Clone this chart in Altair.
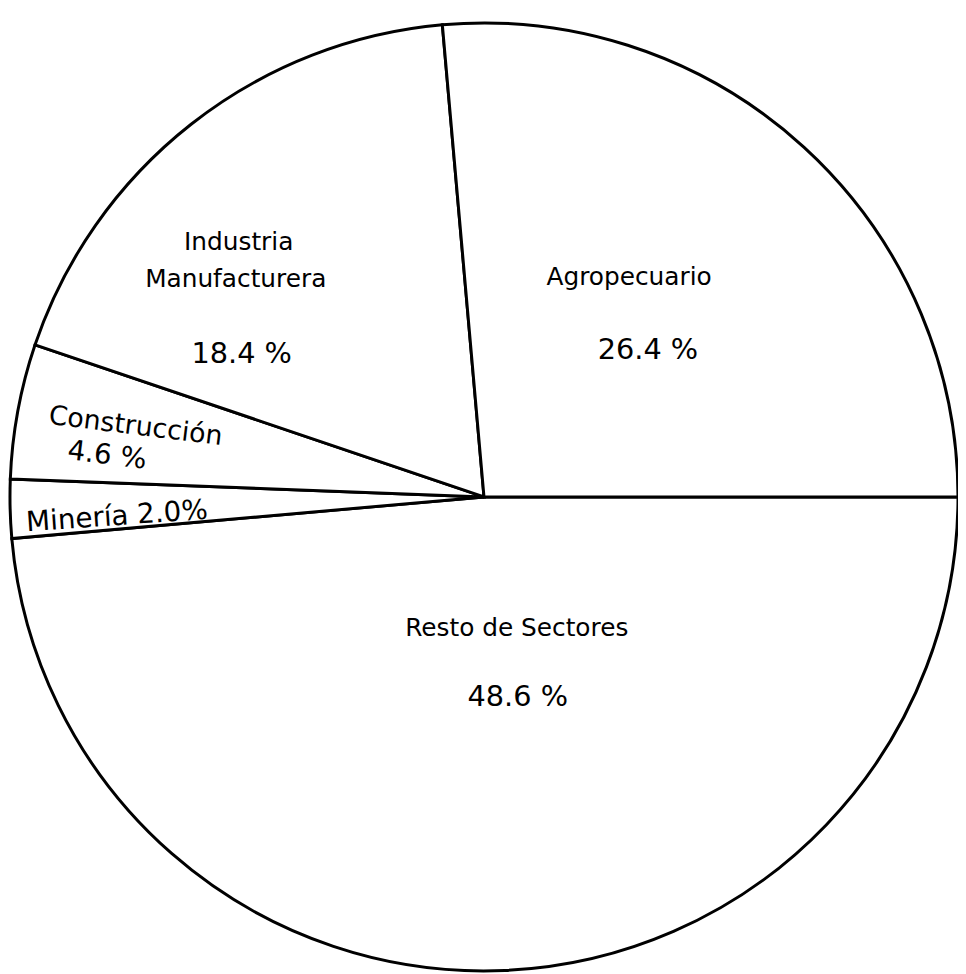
import math
import altair as alt
import pandas as pd

# ---- data ----
sectors = ["Resto de Sectores", "Minería", "Construcción", "Industria Manufacturera", "Agropecuario"]
shares = [48.6, 2.0, 4.6, 18.4, 26.4]
slice_order = [0, 1, 2, 3, 4]

label_sector = ["Agropecuario", "Agropecuario",
                "Industria Manufacturera", "Industria Manufacturera", "Industria Manufacturera",
                "Construcción", "Construcción", "Minería",
                "Resto de Sectores", "Resto de Sectores"]
label_text = ["Agropecuario", "26.4 %",
              "Industria", "Manufacturera", "18.4 %",
              "Construcción", "4.6 %", "Minería 2.0%",
              "Resto de Sectores", "48.6 %"]

# ---- layout / style (not data) ----
label_size = [25, 29, 25, 25, 29, 27, 28, 28, 25, 29]
label_dx = [-9, 10, -62, -65, -59, 2, -23, -1, 26, 27]
label_dy = [-44, 31, -13, 24, 101, 2, 35, 19, -20, 51]
label_angle = [0, 0, 0, 0, 0, 7, 7, 356, 0, 0]
sector_radius = {"Agropecuario": 230, "Industria Manufacturera": 300,
                 "Construcción": 360, "Minería": 370, "Resto de Sectores": 160}

df = pd.DataFrame({"sector": sectors, "share": shares, "ord": slice_order})
df["mid"] = df["share"].cumsum() - df["share"] / 2
mid_of = dict(zip(df["sector"], df["mid"]))

theta_scale = alt.Scale(domain=[0, 100], range=[math.pi / 2, math.pi / 2 + 2 * math.pi])

pie = alt.Chart(df).mark_arc(fill="white", stroke="black", strokeWidth=3).encode(
    theta=alt.Theta("share:Q", stack=True, scale=theta_scale),
    order=alt.Order("ord:Q"),
    radius=alt.value(478),
)

layers = [pie]
for sec, txt, fs, dx, dy, ang in zip(label_sector, label_text, label_size,
                                     label_dx, label_dy, label_angle):
    ldf = pd.DataFrame({"sector": [sec], "mid": [mid_of[sec]], "text": [txt]})
    layers.append(
        alt.Chart(ldf).mark_text(
            font="DejaVu Sans", fontSize=fs, color="black", align="center",
            baseline="alphabetic", dx=dx, dy=dy, angle=ang,
        ).encode(
            theta=alt.Theta("mid:Q", stack=None, scale=theta_scale),
            radius=alt.value(sector_radius[sec]),
            text="text:N",
        )
    )

chart = alt.layer(*layers).properties(
    width=940, height=940,
    padding={"left": 10, "right": 8, "top": 19, "bottom": 7},
    autosize=alt.AutoSizeParams(type="none"),
    background="white",
).configure_view(stroke=None)

chart.save("out.html", embed_options={"renderer": "svg", "actions": False})
